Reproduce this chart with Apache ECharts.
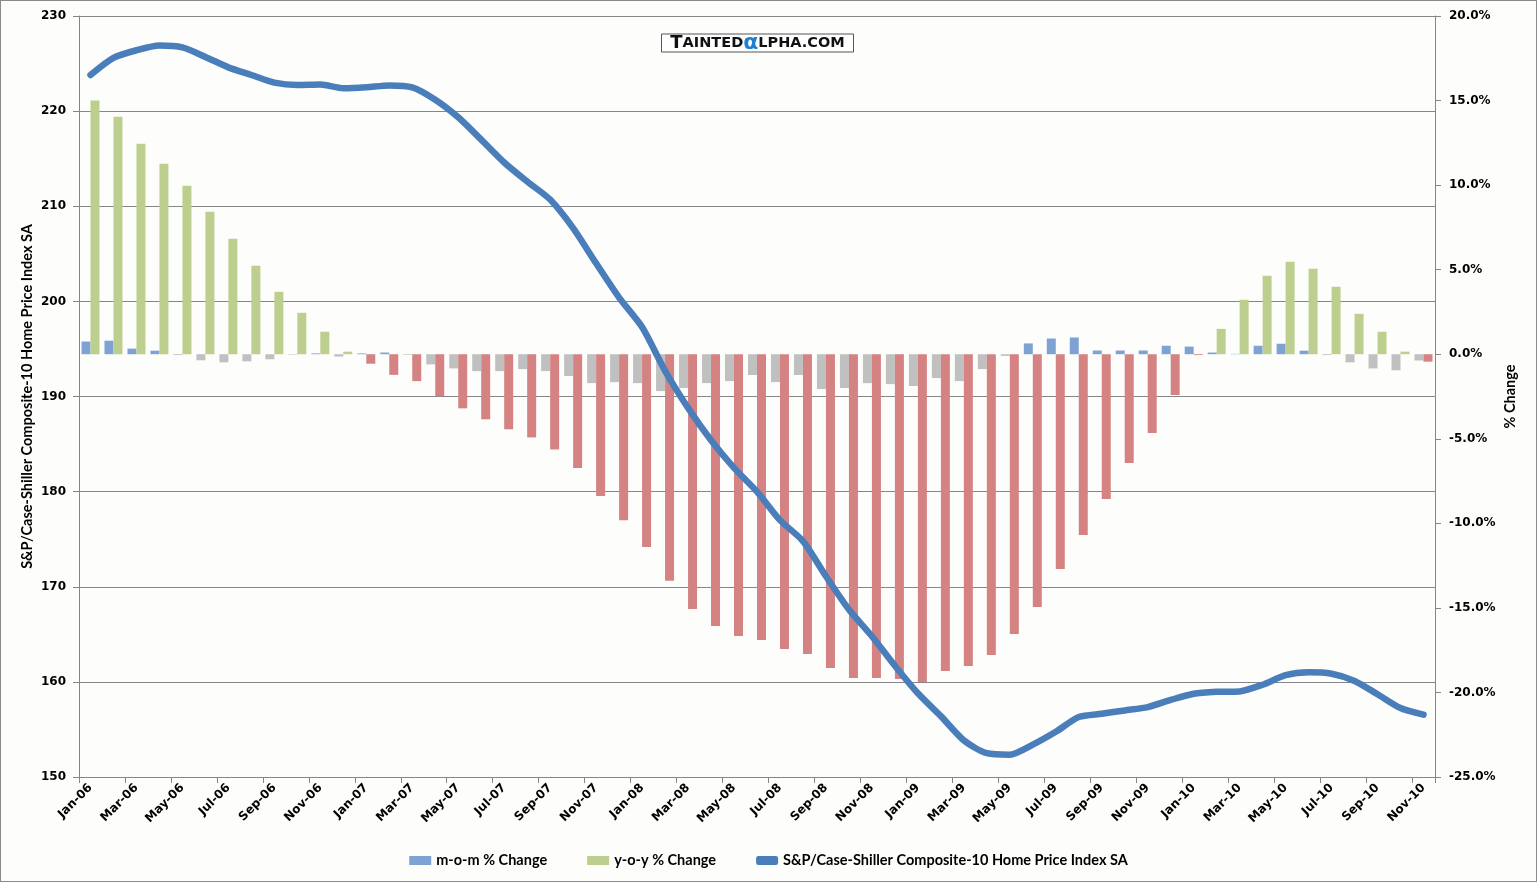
<!DOCTYPE html>
<html>
<head>
<meta charset="utf-8">
<script src="https://cdn.jsdelivr.net/npm/echarts@6/dist/echarts.min.js"></script>
<style>
html,body{margin:0;padding:0;background:#fff;}
#c{width:1537px;height:882px;box-sizing:border-box;border:1px solid #8a8a8a;background:#fdfefc;}
</style>
</head>
<body>
<div id="c"></div>
<script>
var months = ["Jan-06","Feb-06","Mar-06","Apr-06","May-06","Jun-06","Jul-06","Aug-06","Sep-06","Oct-06","Nov-06","Dec-06",
"Jan-07","Feb-07","Mar-07","Apr-07","May-07","Jun-07","Jul-07","Aug-07","Sep-07","Oct-07","Nov-07","Dec-07",
"Jan-08","Feb-08","Mar-08","Apr-08","May-08","Jun-08","Jul-08","Aug-08","Sep-08","Oct-08","Nov-08","Dec-08",
"Jan-09","Feb-09","Mar-09","Apr-09","May-09","Jun-09","Jul-09","Aug-09","Sep-09","Oct-09","Nov-09","Dec-09",
"Jan-10","Feb-10","Mar-10","Apr-10","May-10","Jun-10","Jul-10","Aug-10","Sep-10","Oct-10","Nov-10"];

var momChange = [0.75,0.80,0.33,0.21,-0.05,-0.36,-0.48,-0.42,-0.30,-0.03,0.05,-0.14,
0.05,0.10,-0.04,-0.60,-0.84,-1.00,-1.00,-0.88,-1.00,-1.29,-1.71,-1.65,
-1.71,-2.18,-2.00,-1.71,-1.59,-1.23,-1.65,-1.23,-2.06,-2.00,-1.71,-1.77,
-1.88,-1.41,-1.59,-0.88,-0.10,0.64,0.93,0.99,0.22,0.22,0.22,0.50,
0.45,0.10,0.02,0.50,0.62,0.21,-0.05,-0.48,-0.84,-0.95,-0.37];

var yoyChange = [15.0,14.04,12.44,11.26,9.96,8.42,6.83,5.23,3.69,2.45,1.33,0.15,
-0.56,-1.22,-1.59,-2.49,-3.20,-3.85,-4.44,-4.92,-5.63,-6.73,-8.38,-9.82,
-11.4,-13.4,-15.06,-16.07,-16.66,-16.9,-17.43,-17.72,-18.55,-19.14,-19.14,-19.2,
-19.38,-18.73,-18.43,-17.78,-16.54,-14.95,-12.7,-10.69,-8.56,-6.43,-4.66,-2.41,
-0.05,1.5,3.22,4.64,5.47,5.05,3.99,2.39,1.33,0.15,-0.44];

var homeIndex = [223.8,225.6,226.4,226.9,226.7,225.7,224.6,223.8,223.0,222.75,222.8,222.4,
222.5,222.7,222.5,221.2,219.35,217.0,214.6,212.6,210.7,207.7,204.0,200.4,
197.3,192.7,188.8,185.4,182.5,180.0,177.0,174.8,171.1,167.6,164.8,161.7,
158.8,156.4,153.85,152.5,152.35,153.4,154.75,156.3,156.65,157.0,157.35,158.1,
158.75,158.95,159.0,159.7,160.7,161.0,160.85,160.1,158.7,157.25,156.55];

var leftTicks = {min:150, max:230, interval:10};
var rightTicks = {min:-25, max:20, interval:5};

var C_BLUE = '#7fa2d4', C_GREY = '#c0c0c0', C_GREEN = '#bccf8e', C_RED = '#d48282', C_LINE = '#4a7ebb';
var FONT = 'Lato';
var TICKFONT = 'DejaVu Sans';

function colored(arr, pos, neg){
  return arr.map(function(v){ return {value:v, itemStyle:{color: v >= 0 ? pos : neg}}; });
}

var chart = echarts.init(document.getElementById('c'));
var option = {
  animation:false,
  backgroundColor:'#fdfefc',
  textStyle:{fontFamily:FONT},
  grid:{left:78, right:101, top:15, bottom:104, containLabel:false},
  legend:{
    top:847, left:'center', itemGap:40, itemWidth:22, itemHeight:9,
    textStyle:{fontFamily:FONT, fontWeight:'bold', fontSize:14.5, color:'#000'},
    data:[{name:'m-o-m % Change', icon:'rect'},{name:'y-o-y % Change', icon:'rect'},
          {name:'S&P/Case-Shiller Composite-10 Home Price Index SA', icon:'roundRect'}]
  },
  xAxis:{
    type:'category', data:months, boundaryGap:true,
    axisLine:{onZero:false, lineStyle:{color:'#868686', width:1}},
    axisTick:{show:true, interval:1, length:6, lineStyle:{color:'#868686'}},
    axisLabel:{interval:1, rotate:45, margin:9, fontFamily:TICKFONT, fontWeight:'bold', fontSize:12, color:'#000'},
    splitLine:{show:false}
  },
  yAxis:[
    {type:'value', min:leftTicks.min, max:leftTicks.max, interval:leftTicks.interval, position:'left',
     name:'S&P/Case-Shiller Composite-10 Home Price Index SA', nameLocation:'middle', nameGap:44, nameRotate:90,
     nameMoveOverlap:false,
     nameTextStyle:{fontFamily:FONT, fontWeight:'bold', fontSize:14.5, color:'#000'},
     axisLine:{show:true, lineStyle:{color:'#868686'}},
     axisTick:{show:true, length:6, lineStyle:{color:'#868686'}},
     axisLabel:{margin:13, fontFamily:TICKFONT, fontWeight:'bold', fontSize:12, color:'#000'},
     splitLine:{show:true, lineStyle:{color:'#868686', width:1}}},
    {type:'value', min:rightTicks.min, max:rightTicks.max, interval:rightTicks.interval, position:'right',
     name:'% Change', nameLocation:'middle', nameGap:68, nameRotate:90,
     nameMoveOverlap:false,
     nameTextStyle:{fontFamily:FONT, fontWeight:'bold', fontSize:14.5, color:'#000'},
     axisLine:{show:true, lineStyle:{color:'#868686'}},
     axisTick:{show:true, length:6, lineStyle:{color:'#868686'}},
     axisLabel:{margin:14, fontFamily:TICKFONT, fontWeight:'bold', fontSize:12, color:'#000',
       formatter:function(v){return v.toFixed(1)+'%';}},
     splitLine:{show:false}}
  ],
  series:[
    {name:'m-o-m % Change', type:'bar', yAxisIndex:1, barWidth:9, barGap:'0%',
     itemStyle:{color:C_BLUE}, data:colored(momChange, C_BLUE, C_GREY), z:2},
    {name:'y-o-y % Change', type:'bar', yAxisIndex:1, barWidth:9, barGap:'0%',
     itemStyle:{color:C_GREEN}, data:colored(yoyChange, C_GREEN, C_RED), z:2},
    {name:'S&P/Case-Shiller Composite-10 Home Price Index SA', type:'line', yAxisIndex:0,
     data:homeIndex, smooth:0.25, showSymbol:false, symbol:'none',
     lineStyle:{color:C_LINE, width:6.5, cap:'round', join:'round'}, itemStyle:{color:C_LINE}, z:5}
  ],
  graphic:[
    {type:'group', left:660, top:31, children:[
      {type:'rect', shape:{x:0,y:0,width:192,height:18}, style:{fill:'#ffffff', stroke:'#555', lineWidth:1}},
      {type:'text', x:96, y:9, style:{
        text:'{b|T}{s|AINTED}{a|α}{s|LPHA.COM}', align:'center', verticalAlign:'middle',
        rich:{
          b:{fontFamily:'DejaVu Sans', fontWeight:'bold', fontSize:18, fill:'#111'},
          s:{fontFamily:'DejaVu Sans', fontWeight:'bold', fontSize:14.5, fill:'#111'},
          a:{fontFamily:'DejaVu Sans', fontWeight:'bold', fontSize:22, fill:'#1f7fd0'}
        }}}
    ]}
  ]
};
chart.setOption(option);
</script>
</body>
</html>
